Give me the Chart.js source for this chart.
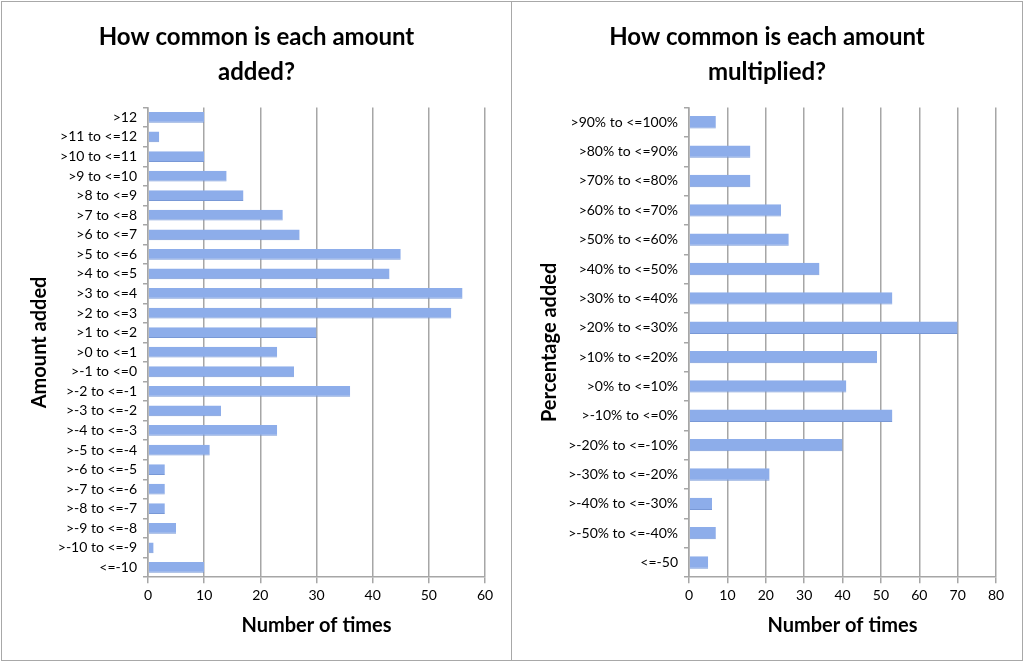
<!DOCTYPE html>
<html>
<head>
<meta charset="utf-8">
<script src="https://cdn.jsdelivr.net/npm/chart.js@4"></script>
<style>
  body { margin: 0; background: #fff; }
  .panel { position: absolute; top: 1px; width: 509px; height: 658px; border: 1px solid #a8a8a8; background: #fff; }
  #leftPanel { left: 1px; }
  #rightPanel { left: 511px; width: 510px; }
</style>
</head>
<body>
<div class="panel" id="leftPanel"><canvas id="addedChart" width="509" height="658"></canvas></div>
<div class="panel" id="rightPanel"><canvas id="multChart" width="510" height="658"></canvas></div>
<script>
const addedLabels = ['>12', '>11 to <=12', '>10 to <=11', '>9 to <=10', '>8 to <=9', '>7 to <=8',
    '>6 to <=7', '>5 to <=6', '>4 to <=5', '>3 to <=4', '>2 to <=3', '>1 to <=2',
    '>0 to <=1', '>-1 to <=0', '>-2 to <=-1', '>-3 to <=-2', '>-4 to <=-3', '>-5 to <=-4',
    '>-6 to <=-5', '>-7 to <=-6', '>-8 to <=-7', '>-9 to <=-8', '>-10 to <=-9', '<=-10'];
const addedCounts = [10, 2, 10, 14, 17, 24, 27, 45, 43, 56, 54, 30, 23, 26, 36, 13, 23, 11, 3, 3, 3, 5, 1, 10];

const multLabels = ['>90% to <=100%', '>80% to <=90%', '>70% to <=80%', '>60% to <=70%',
    '>50% to <=60%', '>40% to <=50%', '>30% to <=40%', '>20% to <=30%', '>10% to <=20%',
    '>0% to <=10%', '>-10% to <=0%', '>-20% to <=-10%', '>-30% to <=-20%',
    '>-40% to <=-30%', '>-50% to <=-40%', '<=-50'];
const multCounts = [7, 16, 16, 24, 26, 34, 53, 70, 49, 41, 53, 40, 21, 6, 7, 5];

const fontFamily = 'Lato, "Open Sans", sans-serif';
const gridGrey = '#a6a6a6';
const barBlue = '#8dadea';

function makeChart(id, title, labels, values, yTitle, xMax, barPct, yWidth) {
    const ctx = document.getElementById(id).getContext('2d');
    return new Chart(ctx, {
        type: 'bar',
        data: {
            labels: labels,
            datasets: [{
                data: values,
                backgroundColor: barBlue,
                borderColor: '#7898d6',
                borderWidth: { top: 0, bottom: 1, right: 0, left: 0 },
                barPercentage: barPct,
                categoryPercentage: 1
            }]
        },
        options: {
            indexAxis: 'y',
            responsive: false,
            animation: false,
            layout: { padding: { left: 26, right: 26, top: 0, bottom: 22 } },
            plugins: {
                legend: { display: false },
                tooltip: { enabled: false },
                title: {
                    display: true,
                    text: title,
                    color: '#000',
                    font: { family: fontFamily, size: 24, weight: 'bold', lineHeight: 1.45 },
                    padding: { top: 18, bottom: 18 }
                }
            },
            scales: {
                x: {
                    min: 0,
                    max: xMax,
                    ticks: { stepSize: 10, color: '#000', font: { family: fontFamily, size: 14 }, padding: 4 },
                    grid: { color: gridGrey, lineWidth: 1.5, tickLength: 6 },
                    border: { color: gridGrey, width: 1.5 },
                    title: {
                        display: true,
                        text: 'Number of times',
                        color: '#000',
                        font: { family: fontFamily, size: 20, weight: 'bold' },
                        padding: { top: 6, bottom: 0 }
                    }
                },
                y: {
                    afterFit: (scale) => { scale.width = yWidth; },
                    ticks: { color: '#000', font: { family: fontFamily, size: 14 }, padding: 6, autoSkip: false },
                    grid: { drawOnChartArea: false, color: gridGrey, lineWidth: 1.5, tickLength: 5, offset: true },
                    border: { color: gridGrey, width: 1.5 },
                    title: {
                        display: true,
                        text: yTitle,
                        color: '#000',
                        font: { family: fontFamily, size: 20, weight: 'bold' },
                        padding: 0
                    }
                }
            }
        }
    });
}

makeChart('addedChart', ['How common is each amount', 'added?'], addedLabels, addedCounts,
    'Amount added', 60, 0.55, 120);
makeChart('multChart', ['How common is each amount', 'multiplied?'], multLabels, multCounts,
    'Percentage added', 80, 0.42, 151);
</script>
</body>
</html>
